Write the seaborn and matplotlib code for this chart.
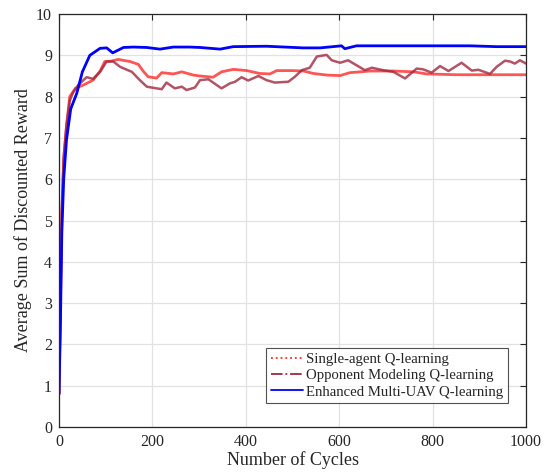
import matplotlib
matplotlib.use("Agg")
import matplotlib.pyplot as plt
from matplotlib.lines import Line2D
import seaborn as sns

# values
cycles_single = [0, 3, 6, 10, 16, 23, 35, 52, 73, 88,
                 98, 112, 127, 152, 170, 180, 191, 209, 220, 245,
                 263, 288, 302, 330, 348, 373, 402, 430, 452, 466,
                 500, 523, 545, 575, 602, 623, 666, 716, 759, 787,
                 850, 920, 1000]
reward_single = [0.8, 3.0, 5.2, 6.5, 7.3, 8.0, 8.2, 8.28, 8.40, 8.62,
                 8.85, 8.86, 8.90, 8.85, 8.78, 8.62, 8.48, 8.45, 8.58, 8.55,
                 8.60, 8.52, 8.50, 8.47, 8.60, 8.66, 8.63, 8.56, 8.55, 8.63,
                 8.63, 8.62, 8.56, 8.52, 8.51, 8.58, 8.62, 8.62, 8.60, 8.55,
                 8.53, 8.53, 8.53]

cycles_opponent = [0, 3, 6, 10, 16, 23, 30, 41, 59, 73,
                   88, 102, 116, 131, 156, 173, 188, 209, 220, 230,
                   248, 263, 273, 291, 302, 320, 330, 348, 366, 377,
                   391, 405, 427, 444, 462, 491, 505, 520, 537, 552,
                   573, 584, 602, 619, 637, 655, 670, 694, 716, 741,
                   766, 780, 798, 816, 834, 862, 884, 898, 923, 937,
                   955, 966, 976, 987, 1000]
reward_opponent = [0.8, 3.0, 5.2, 6.5, 7.3, 7.9, 8.1, 8.28, 8.47, 8.43,
                   8.60, 8.85, 8.85, 8.72, 8.60, 8.40, 8.24, 8.20, 8.18, 8.34,
                   8.20, 8.24, 8.16, 8.22, 8.40, 8.42, 8.34, 8.20, 8.32, 8.36,
                   8.47, 8.39, 8.50, 8.40, 8.34, 8.36, 8.48, 8.64, 8.70, 8.97,
                   9.01, 8.88, 8.82, 8.88, 8.76, 8.64, 8.70, 8.64, 8.60, 8.44,
                   8.68, 8.66, 8.58, 8.74, 8.62, 8.82, 8.63, 8.65, 8.55, 8.72,
                   8.87, 8.85, 8.80, 8.88, 8.80]

cycles_enhanced = [0, 3, 6, 10, 16, 25, 38, 50, 66, 88,
                   102, 115, 138, 159, 188, 216, 245, 280, 302, 345,
                   373, 444, 523, 559, 605, 612, 637, 880, 937, 1000]
reward_enhanced = [0.8, 2.5, 4.7, 6.0, 6.95, 7.7, 8.08, 8.6, 9.0, 9.17,
                   9.18, 9.06, 9.19, 9.20, 9.19, 9.15, 9.20, 9.20, 9.19, 9.15,
                   9.21, 9.22, 9.18, 9.18, 9.23, 9.16, 9.23, 9.23, 9.21, 9.21]

labels = ["Single-agent Q-learning", "Opponent Modeling Q-learning",
          "Enhanced Multi-UAV Q-learning"]

sns.set_style("white")
plt.rcParams["font.family"] = ["Liberation Serif", "DejaVu Serif"]

fig = plt.figure(figsize=(5.49, 4.72), dpi=100)
ax = fig.add_axes([0.1075, 0.0953, 0.8506, 0.875])

sns.lineplot(x=cycles_single, y=reward_single, ax=ax, color="#ff2a2a",
             lw=2.0, alpha=0.8, sort=False)
sns.lineplot(x=cycles_opponent, y=reward_opponent, ax=ax, color="#a0283f",
             lw=1.8, alpha=0.8, sort=False)
sns.lineplot(x=cycles_enhanced, y=reward_enhanced, ax=ax, color="#0000ff",
             lw=2.0, sort=False)

ax.set_xlim(0, 1000)
ax.set_ylim(0, 10)
ax.set_xticks(range(0, 1001, 200))
ax.set_yticks(range(0, 11, 1))
ax.grid(True, color="#e2e2e2", lw=0.9)
ax.set_axisbelow(True)
ax.tick_params(direction="in", top=True, right=True, length=4, width=0.8,
               labelsize=11.5, colors="#262626", pad=5)
for s in ax.spines.values():
    s.set_color("#262626")
    s.set_linewidth(0.9)

ax.set_xlabel("Number of Cycles", fontsize=13, color="#262626", labelpad=1)
ax.set_ylabel("Average Sum of Discounted Reward", fontsize=13, color="#262626",
              labelpad=3)

handles = [
    Line2D([], [], color="#ff2a2a", lw=1.3, ls=":"),
    Line2D([], [], color="#a0283f", lw=1.3, ls="-."),
    Line2D([], [], color="#0000ff", lw=1.3, ls="-"),
]
leg = ax.legend(handles, labels, loc="lower right",
                bbox_to_anchor=(0.961, 0.058), fontsize=10.6, frameon=True,
                fancybox=False, handlelength=2.2, handletextpad=0.2,
                borderpad=0.3, labelspacing=0.2, borderaxespad=0)
leg.get_frame().set_edgecolor("#262626")
leg.get_frame().set_linewidth(0.8)

fig.savefig("out.png", dpi=100)
